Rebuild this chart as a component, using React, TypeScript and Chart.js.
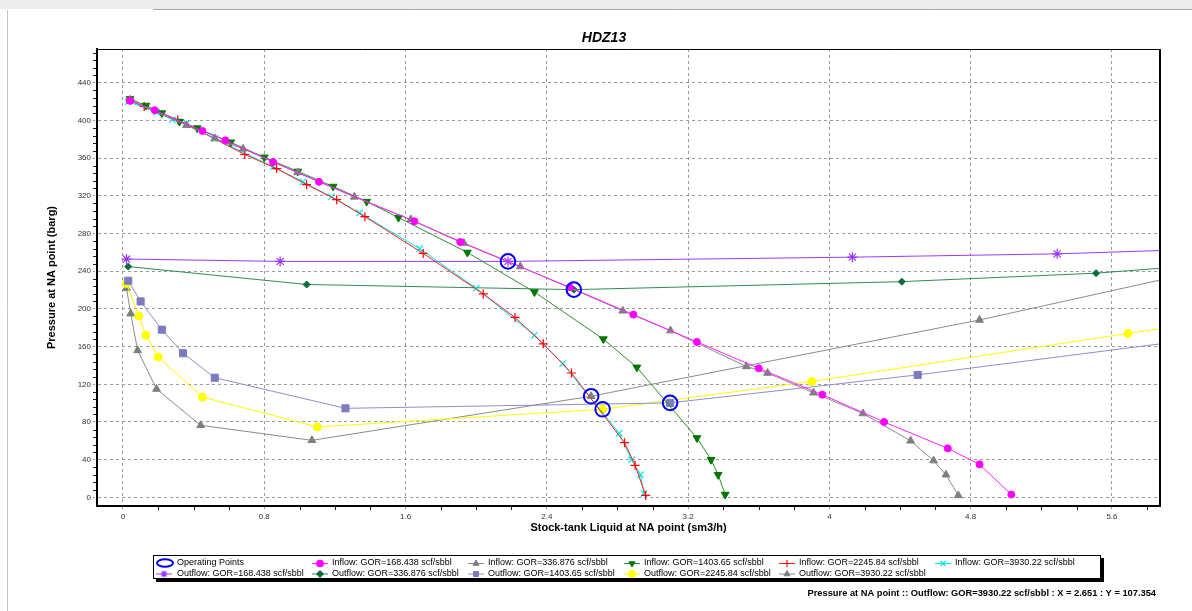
import React, { useEffect, useRef } from 'react';
import { Chart, registerables } from 'chart.js';
import { drawPoint } from 'chart.js/helpers';

Chart.register(...registerables);

const FONT = '"Liberation Sans", Arial, Helvetica, sans-serif';

const CHART_TITLE = 'HDZ13';
const X_TITLE = 'Stock-tank Liquid at NA point (sm3/h)';
const Y_TITLE = 'Pressure at NA point (barg)';
const STATUS_TEXT = 'Pressure at NA point :: Outflow: GOR=3930.22 scf/sbbl : X = 2.651 : Y = 107.354';

const X_TICKS = [0, 0.8, 1.6, 2.4, 3.2, 4, 4.8, 5.6];
const Y_TICKS = [0, 40, 80, 120, 160, 200, 240, 280, 320, 360, 400, 440];

// Inflow curves
const X_IN1 = [0.04, 0.18, 0.45, 0.58, 0.85, 1.11, 1.65, 1.91, 2.53, 2.89, 3.25, 3.6, 3.96, 4.31, 4.67, 4.85, 5.03];
const Y_IN1 = [421, 411, 389, 379, 356, 335, 293, 271, 223, 194, 165, 137, 109, 80, 52, 35, 3];

const X_IN2 = [0.04, 0.36, 0.52, 0.68, 0.99, 1.31, 1.63, 1.93, 2.25, 2.83, 3.1, 3.53, 3.65, 3.91, 4.19, 4.46, 4.59, 4.66, 4.73];
const Y_IN2 = [421, 395, 381, 370, 345, 319, 295, 270, 245, 198, 177, 139, 132, 111, 89, 60, 39, 24, 2];

const X_IN3 = [0.04, 0.13, 0.22, 0.32, 0.42, 0.61, 0.8, 0.99, 1.19, 1.38, 1.56, 1.95, 2.33, 2.72, 2.91, 3.25, 3.33, 3.37, 3.41];
const Y_IN3 = [423, 416, 408, 399, 392, 377, 361, 346, 330, 314, 297, 260, 218, 168, 138, 63, 40, 24, 3];

const X_IN4 = [0.04, 0.12, 0.31, 0.69, 0.87, 1.04, 1.21, 1.37, 1.7, 2.04, 2.22, 2.38, 2.54, 2.84, 2.9, 2.96];
const Y_IN4 = [422, 415, 401, 364, 349, 332, 316, 298, 259, 216, 191, 163, 132, 58, 34, 2];

const X_IN5 = [0.03, 0.19, 0.28, 0.36, 0.52, 0.85, 1.02, 1.18, 1.34, 1.68, 2.0, 2.33, 2.49, 2.81, 2.88, 2.93, 2.95];
const Y_IN5 = [420, 409, 401, 397, 381, 351, 335, 319, 302, 264, 222, 172, 142, 68, 40, 24, 4];

// Outflow curves (last value lies just past the right edge of the plot)
const X_OUT1 = [0.02, 0.89, 2.18, 4.13, 5.29, 6.0];
const Y_OUT1 = [253, 250.5, 250.5, 255, 258.5, 262.8];

const X_OUT2 = [0.03, 1.04, 2.553, 4.41, 5.51, 6.0];
const Y_OUT2 = [245, 226, 220.5, 229, 238, 245];

const X_OUT3 = [0.03, 0.1, 0.22, 0.34, 0.52, 1.26, 3.098, 4.5, 6.0];
const Y_OUT3 = [230, 208, 178, 153, 127, 94.5, 100.3, 130, 166];

const X_OUT4 = [0.02, 0.09, 0.13, 0.2, 0.45, 1.1, 2.716, 3.9, 5.69, 6.0];
const Y_OUT4 = [227, 192.5, 172, 149, 106.5, 74.7, 93.5, 123, 174, 182.6];

const X_OUT5 = [0.02, 0.044, 0.083, 0.19, 0.44, 1.07, 2.651, 4.85, 6.0];
const Y_OUT5 = [222, 195, 156, 115, 76.5, 60.5, 107.354, 188.3, 236];

// Operating points
const X_OP = [2.18, 2.553, 2.651, 2.716, 3.098];
const Y_OP = [250.5, 220.5, 107.354, 93.5, 100.3];

const OP_LABEL = 'Operating Points';

const SERIES = [
  { label: 'Inflow: GOR=168.438 scf/sbbl', x: X_IN1, y: Y_IN1, color: '#FF00FF', line: '#FF22FF', style: 'circle', r: 3.5, rot: 0, bw: 1, col: 1, row: 0 },
  { label: 'Inflow: GOR=336.876 scf/sbbl', x: X_IN2, y: Y_IN2, color: '#7F7F7F', line: '#8C8C8C', style: 'triangle', r: 4.5, rot: 0, bw: 1, col: 2, row: 0 },
  { label: 'Inflow: GOR=1403.65 scf/sbbl', x: X_IN3, y: Y_IN3, color: '#007800', line: '#2E912E', style: 'triangle', r: 4.5, rot: 180, bw: 1, col: 3, row: 0 },
  { label: 'Inflow: GOR=2245.84 scf/sbbl', x: X_IN4, y: Y_IN4, color: '#FF0000', line: '#FF2020', style: 'cross', r: 4.5, rot: 0, bw: 1.2, col: 4, row: 0 },
  { label: 'Inflow: GOR=3930.22 scf/sbbl', x: X_IN5, y: Y_IN5, color: '#00E8E8', line: '#00E8E8', style: 'crossRot', r: 4.5, rot: 0, bw: 1.2, col: 5, row: 0 },
  { label: 'Outflow: GOR=168.438 scf/sbbl', x: X_OUT1, y: Y_OUT1, color: '#9933FF', line: '#9B3BFF', style: 'star', r: 5, rot: 0, bw: 1.2, col: 0, row: 1 },
  { label: 'Outflow: GOR=336.876 scf/sbbl', x: X_OUT2, y: Y_OUT2, color: '#0A6E3C', line: '#2E8B57', style: 'rectRot', r: 3.5, rot: 0, bw: 1, col: 1, row: 1 },
  { label: 'Outflow: GOR=1403.65 scf/sbbl', x: X_OUT3, y: Y_OUT3, color: '#7B7BBE', line: '#8E8ECC', style: 'rect', r: 5, rot: 0, bw: 1, col: 2, row: 1 },
  { label: 'Outflow: GOR=2245.84 scf/sbbl', x: X_OUT4, y: Y_OUT4, color: '#FFFF00', line: '#FFFF00', style: 'circle', r: 4, rot: 0, bw: 1, col: 3, row: 1 },
  { label: 'Outflow: GOR=3930.22 scf/sbbl', x: X_OUT5, y: Y_OUT5, color: '#7F7F7F', line: '#8C8C8C', style: 'triangle', r: 4.5, rot: 0, bw: 1, col: 4, row: 1 },
];

const X_MIN = -0.147;
const X_MAX = 5.872;
const Y_MIN = -9.2;
const Y_MAX = 476;

const fmt = (v: number) => String(Math.round(v * 10) / 10);

const decorPlugin = {
  id: 'decor',
  beforeDraw(chart: any) {
    const { ctx, width, height } = chart;
    ctx.save();
    ctx.fillStyle = '#ffffff';
    ctx.fillRect(0, 0, width, height);
    ctx.fillStyle = '#ececec';
    ctx.fillRect(0, 0, width, 9);
    ctx.strokeStyle = '#a8a8a8';
    ctx.lineWidth = 1;
    ctx.beginPath();
    ctx.moveTo(153, 9.5);
    ctx.lineTo(width, 9.5);
    ctx.stroke();
    ctx.strokeStyle = '#c4c4c4';
    ctx.beginPath();
    ctx.moveTo(7.5, 10);
    ctx.lineTo(7.5, height);
    ctx.stroke();
    ctx.restore();
  },
  afterDraw(chart: any) {
    const { ctx, chartArea } = chart;
    const xs = chart.scales.x;
    const ys = chart.scales.y;
    ctx.save();

    // frame top/right
    ctx.strokeStyle = '#000';
    ctx.lineWidth = 1;
    ctx.beginPath();
    ctx.moveTo(chartArea.left, chartArea.top + 0.5);
    ctx.lineTo(chartArea.right, chartArea.top + 0.5);
    ctx.stroke();
    ctx.lineWidth = 2;
    ctx.beginPath();
    ctx.moveTo(chartArea.right, chartArea.top);
    ctx.lineTo(chartArea.right, chartArea.bottom + 1);
    ctx.stroke();

    // minor ticks
    ctx.lineWidth = 1;
    ctx.strokeStyle = '#222';
    ctx.beginPath();
    for (let k = 1; k < 30; k++) {
      if (k % 4 === 0) continue;
      const v = k * 0.2;
      if (v > X_MAX) break;
      const px = Math.round(xs.getPixelForValue(v)) + 0.5;
      ctx.moveTo(px, chartArea.bottom + 1);
      ctx.lineTo(px, chartArea.bottom + 4);
    }
    for (let k = 1; k < 60; k++) {
      if (k % 5 === 0) continue;
      const v = k * 8;
      if (v > Y_MAX) break;
      const py = Math.round(ys.getPixelForValue(v)) + 0.5;
      ctx.moveTo(chartArea.left - 4, py);
      ctx.lineTo(chartArea.left - 1, py);
    }
    ctx.stroke();

    // chart title
    ctx.fillStyle = '#000';
    ctx.font = `italic bold 14px ${FONT}`;
    ctx.textAlign = 'center';
    ctx.textBaseline = 'middle';
    ctx.fillText(CHART_TITLE, 604, 38);

    // legend box
    const L = 153, T = 555, R = 1101, B = 579;
    ctx.fillStyle = '#000';
    ctx.fillRect(L + 3, B, R - L, 3);
    ctx.fillRect(R, T + 3, 3, B - T);
    ctx.fillStyle = '#fff';
    ctx.fillRect(L, T, R - L, B - T);
    ctx.strokeStyle = '#000';
    ctx.lineWidth = 1;
    ctx.strokeRect(L + 0.5, T + 0.5, R - L - 1, B - T - 1);

    const colX = [156, 312, 468, 624, 779, 935];
    const rowY = [563, 573.5];
    ctx.font = `9px ${FONT}`;
    ctx.textAlign = 'left';
    ctx.textBaseline = 'middle';

    // operating points entry
    ctx.strokeStyle = '#0000FF';
    ctx.lineWidth = 2;
    ctx.beginPath();
    ctx.ellipse(colX[0] + 9, rowY[0], 8, 3.8, 0, 0, Math.PI * 2);
    ctx.stroke();
    ctx.fillStyle = '#000';
    ctx.fillText(OP_LABEL, colX[0] + 21, rowY[0]);

    SERIES.forEach((s) => {
      const x0 = colX[s.col];
      const y0 = rowY[s.row];
      ctx.strokeStyle = s.line;
      ctx.lineWidth = 1;
      ctx.beginPath();
      ctx.moveTo(x0, y0 + 0.5);
      ctx.lineTo(x0 + 16, y0 + 0.5);
      ctx.stroke();
      ctx.fillStyle = s.color;
      ctx.strokeStyle = s.color;
      ctx.lineWidth = s.bw;
      drawPoint(ctx, { pointStyle: s.style, rotation: s.rot, radius: Math.min(s.r, 3.5), borderWidth: s.bw }, x0 + 8, y0 + 0.5);
      ctx.fillStyle = '#000';
      ctx.fillText(s.label, x0 + (s.col === 0 ? 21 : 20), y0);
    });

    // status text
    ctx.font = `bold 9.3px ${FONT}`;
    ctx.textAlign = 'right';
    ctx.fillStyle = '#000';
    ctx.fillText(STATUS_TEXT, 1156, 593);

    ctx.restore();
  },
};

export default function App() {
  const ref = useRef<HTMLCanvasElement | null>(null);

  useEffect(() => {
    if (!ref.current) return;
    const datasets: any[] = [];
    datasets.push({
      label: OP_LABEL,
      data: X_OP.map((x, i) => ({ x, y: Y_OP[i] })),
      showLine: false,
      pointStyle: 'circle',
      pointRadius: 7.3,
      pointBorderWidth: 2,
      pointBorderColor: '#0000FF',
      pointBackgroundColor: 'rgba(0,0,0,0)',
      order: 0,
    });
    SERIES.forEach((s, idx) => {
      datasets.push({
        label: s.label,
        data: s.x.map((x, i) => ({ x, y: s.y[i] })),
        showLine: true,
        borderColor: s.line,
        borderWidth: 1,
        tension: 0,
        pointStyle: s.style,
        pointRotation: s.rot,
        pointRadius: s.x.map((x) => (x > X_MAX ? 0 : s.r)),
        pointBorderWidth: s.bw,
        pointBorderColor: s.color,
        pointBackgroundColor: s.color,
        order: 1 + idx,
      });
    });

    const chart = new Chart(ref.current, {
      type: 'scatter',
      data: { datasets },
      options: {
        responsive: false,
        maintainAspectRatio: false,
        devicePixelRatio: 1,
        animation: false,
        layout: { padding: { left: 0, top: 49, right: 32, bottom: 0 } },
        plugins: {
          legend: { display: false },
          tooltip: { enabled: false },
          title: { display: false },
        },
        scales: {
          x: {
            type: 'linear',
            min: X_MIN,
            max: X_MAX,
            afterBuildTicks: (scale: any) => {
              scale.ticks = X_TICKS.map((v) => ({ value: v }));
            },
            afterFit: (scale: any) => {
              scale.height = 105;
            },
            ticks: {
              callback: (v: any) => fmt(Number(v)),
              font: { family: FONT, size: 8 },
              color: '#333',
              padding: 2,
              maxRotation: 0,
              autoSkip: false,
            },
            grid: {
              color: '#9a9a9a',
              lineWidth: 1,
              tickLength: 4,
              tickColor: '#9a9a9a',
              tickBorderDash: [2, 2],
            },
            border: { display: true, color: '#000', width: 2, dash: [3, 3] },
            title: {
              display: true,
              text: X_TITLE,
              font: { family: FONT, size: 11, weight: 'bold' },
              color: '#000',
              padding: { top: 0, bottom: 76.4 },
            },
          },
          y: {
            type: 'linear',
            min: Y_MIN,
            max: Y_MAX,
            afterBuildTicks: (scale: any) => {
              scale.ticks = Y_TICKS.map((v) => ({ value: v }));
            },
            afterFit: (scale: any) => {
              scale.width = 97;
            },
            ticks: {
              callback: (v: any) => fmt(Number(v)),
              font: { family: FONT, size: 8 },
              color: '#333',
              padding: 2,
              autoSkip: false,
            },
            grid: {
              color: '#9a9a9a',
              lineWidth: 1,
              tickLength: 4,
              tickColor: '#9a9a9a',
              tickBorderDash: [2, 2],
            },
            border: { display: true, color: '#000', width: 2, dash: [3, 3] },
            title: {
              display: true,
              text: Y_TITLE,
              font: { family: FONT, size: 11, weight: 'bold' },
              color: '#000',
              padding: { top: 45.4, bottom: 0 },
            },
          },
        },
      } as any,
      plugins: [decorPlugin],
    });

    return () => chart.destroy();
  }, []);

  return (
    <div style={{ position: 'absolute', left: 0, top: 0, width: 1192, height: 611, background: '#fff' }}>
      <canvas ref={ref} width={1192} height={611} style={{ display: 'block' }} />
    </div>
  );
}
